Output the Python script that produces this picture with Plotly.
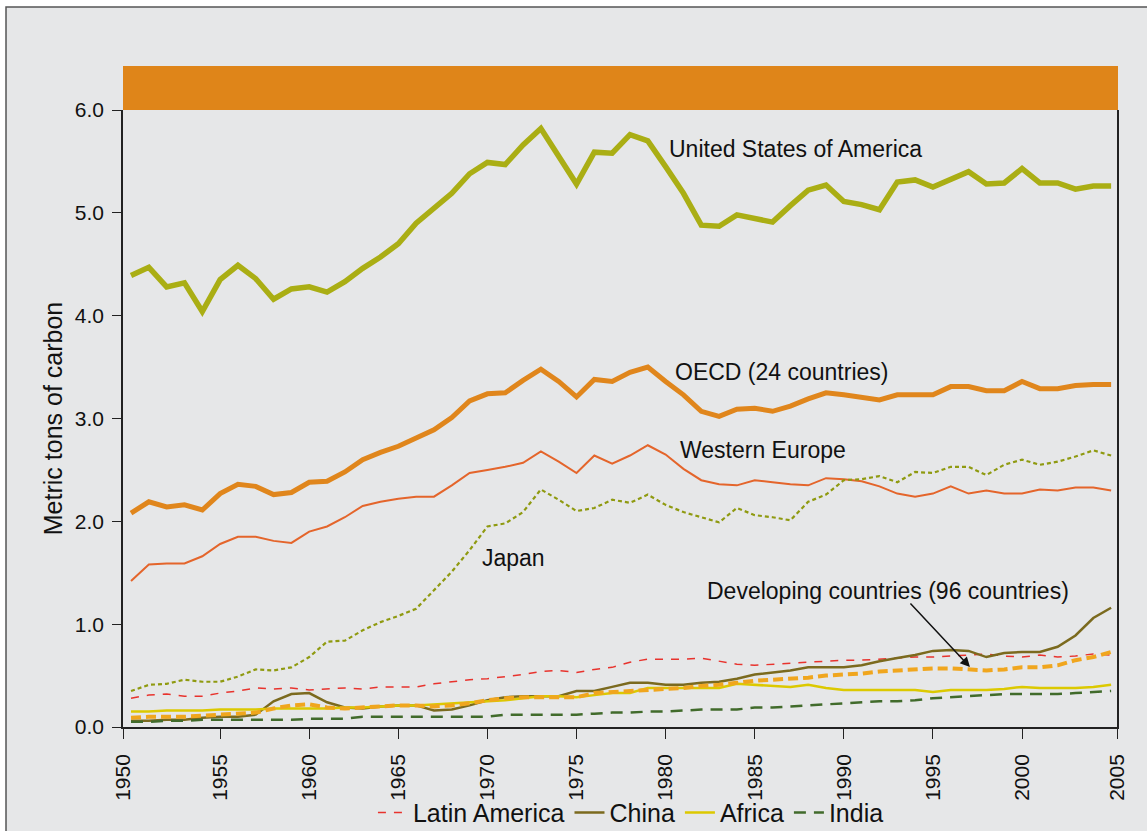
import plotly.graph_objects as go

years = list(range(1950, 2006))

usa = [4.39, 4.47, 4.28, 4.32, 4.04, 4.35, 4.49, 4.36, 4.16, 4.26,
       4.28, 4.23, 4.33, 4.46, 4.57, 4.70, 4.90, 5.04, 5.19, 5.38,
       5.49, 5.47, 5.66, 5.82, 5.55, 5.28, 5.59, 5.58, 5.76, 5.70,
       5.45, 5.19, 4.88, 4.87, 4.98, 4.95, 4.91, 5.07, 5.22, 5.27,
       5.11, 5.08, 5.03, 5.30, 5.32, 5.25, 5.32, 5.40, 5.28, 5.29,
       5.43, 5.29, 5.29, 5.23, 5.26, 5.26]

oecd = [2.08, 2.19, 2.14, 2.16, 2.11, 2.27, 2.36, 2.34, 2.26, 2.28,
        2.38, 2.39, 2.48, 2.60, 2.67, 2.73, 2.81, 2.89, 3.01, 3.17,
        3.24, 3.25, 3.37, 3.48, 3.36, 3.21, 3.38, 3.36, 3.45, 3.50,
        3.36, 3.23, 3.07, 3.02, 3.09, 3.10, 3.07, 3.12, 3.19, 3.25,
        3.23, 3.20, 3.18, 3.23, 3.23, 3.23, 3.31, 3.31, 3.27, 3.27,
        3.36, 3.29, 3.29, 3.32, 3.33, 3.33]

western_europe = [1.42, 1.58, 1.59, 1.59, 1.66, 1.78, 1.85, 1.85, 1.81, 1.79,
                  1.90, 1.95, 2.04, 2.15, 2.19, 2.22, 2.24, 2.24, 2.35, 2.47,
                  2.50, 2.53, 2.57, 2.68, 2.58, 2.47, 2.64, 2.56, 2.64, 2.74,
                  2.65, 2.51, 2.40, 2.36, 2.35, 2.40, 2.38, 2.36, 2.35, 2.42,
                  2.41, 2.39, 2.34, 2.27, 2.24, 2.27, 2.34, 2.27, 2.30, 2.27,
                  2.27, 2.31, 2.30, 2.33, 2.33, 2.30]

japan = [0.35, 0.41, 0.42, 0.46, 0.44, 0.44, 0.49, 0.56, 0.55, 0.58,
         0.68, 0.83, 0.84, 0.94, 1.02, 1.08, 1.15, 1.33, 1.51, 1.72,
         1.95, 1.98, 2.09, 2.31, 2.21, 2.10, 2.13, 2.21, 2.18, 2.26,
         2.16, 2.09, 2.04, 1.99, 2.13, 2.06, 2.04, 2.01, 2.19, 2.26,
         2.40, 2.41, 2.44, 2.38, 2.48, 2.47, 2.53, 2.53, 2.45, 2.55,
         2.60, 2.55, 2.58, 2.63, 2.69, 2.64]

latin_america = [0.28, 0.31, 0.32, 0.30, 0.30, 0.33, 0.35, 0.38, 0.37, 0.38,
                 0.36, 0.37, 0.38, 0.37, 0.39, 0.39, 0.39, 0.42, 0.44, 0.46,
                 0.47, 0.49, 0.51, 0.54, 0.55, 0.53, 0.56, 0.58, 0.63, 0.66,
                 0.66, 0.66, 0.67, 0.64, 0.61, 0.60, 0.61, 0.62, 0.63, 0.64,
                 0.65, 0.65, 0.66, 0.67, 0.68, 0.68, 0.69, 0.70, 0.71, 0.69,
                 0.68, 0.70, 0.68, 0.69, 0.71, 0.70]

china = [0.06, 0.06, 0.07, 0.07, 0.09, 0.10, 0.10, 0.12, 0.25, 0.32,
         0.33, 0.24, 0.19, 0.18, 0.20, 0.21, 0.21, 0.16, 0.17, 0.21,
         0.26, 0.29, 0.30, 0.30, 0.30, 0.35, 0.35, 0.39, 0.43, 0.43,
         0.41, 0.41, 0.43, 0.44, 0.47, 0.51, 0.53, 0.55, 0.58, 0.58,
         0.58, 0.60, 0.64, 0.67, 0.70, 0.74, 0.75, 0.74, 0.68, 0.72,
         0.73, 0.73, 0.78, 0.89, 1.06, 1.16]

africa = [0.15, 0.15, 0.16, 0.16, 0.16, 0.17, 0.17, 0.17, 0.18, 0.18,
          0.18, 0.18, 0.19, 0.19, 0.20, 0.21, 0.21, 0.22, 0.23, 0.24,
          0.25, 0.26, 0.28, 0.30, 0.30, 0.29, 0.31, 0.33, 0.33, 0.38,
          0.38, 0.38, 0.38, 0.38, 0.42, 0.41, 0.40, 0.39, 0.41, 0.38,
          0.36, 0.36, 0.36, 0.36, 0.36, 0.34, 0.36, 0.36, 0.36, 0.37,
          0.39, 0.38, 0.38, 0.38, 0.39, 0.41]

india = [0.05, 0.05, 0.06, 0.06, 0.07, 0.07, 0.07, 0.07, 0.07, 0.07,
         0.08, 0.08, 0.08, 0.10, 0.10, 0.10, 0.10, 0.10, 0.10, 0.10,
         0.10, 0.12, 0.12, 0.12, 0.12, 0.12, 0.13, 0.14, 0.14, 0.15,
         0.15, 0.16, 0.17, 0.17, 0.17, 0.19, 0.19, 0.20, 0.21, 0.22,
         0.23, 0.24, 0.25, 0.25, 0.26, 0.28, 0.29, 0.30, 0.31, 0.32,
         0.32, 0.32, 0.32, 0.33, 0.34, 0.35]

developing = [0.09, 0.10, 0.10, 0.10, 0.11, 0.12, 0.13, 0.14, 0.18, 0.21,
              0.22, 0.19, 0.18, 0.19, 0.20, 0.21, 0.21, 0.20, 0.21, 0.23,
              0.26, 0.28, 0.29, 0.29, 0.29, 0.29, 0.33, 0.34, 0.35, 0.36,
              0.37, 0.38, 0.40, 0.41, 0.43, 0.45, 0.46, 0.47, 0.48, 0.50,
              0.51, 0.52, 0.54, 0.55, 0.56, 0.57, 0.57, 0.56, 0.55, 0.56,
              0.58, 0.58, 0.60, 0.65, 0.68, 0.73]

x_ticks = [1950, 1955, 1960, 1965, 1970, 1975, 1980, 1985, 1990, 1995, 2000, 2005]
y_ticks = [0, 1, 2, 3, 4, 5, 6]

FONT = "Liberation Sans, Arial, Helvetica, sans-serif"
BG = "#e6e7e8"
X_RANGE = [1949.55, 2005.33]

fig = go.Figure()

def add(y, name, color, width, dash="solid", legend=False):
    fig.add_trace(go.Scatter(x=years, y=y, name=name, mode="lines",
                             line=dict(color=color, width=width, dash=dash),
                             showlegend=legend))

add(usa, "United States of America", "#aaae14", 5.5)
add(oecd, "OECD (24 countries)", "#e0861c", 5)
add(western_europe, "Western Europe", "#e4652b", 2)
add(japan, "Japan", "#8f9a10", 2.2, "4px,3px")
add(latin_america, "Latin America", "#e8332d", 1.5, "8px,8px", True)
add(china, "China", "#7b6a1e", 2.5, "solid", True)
add(africa, "Africa", "#dcc900", 2.5, "solid", True)
add(india, "India", "#416b2b", 2.5, "12px,8px", True)
add(developing, "Developing countries (96 countries)", "#f0a61e", 4, "10px,5px")

# tick positions: edge ticks labelled 1950 and 2005 sit at the frame edges
tickvals = [X_RANGE[0]] + x_ticks[1:-1] + [X_RANGE[1]]

fig.update_layout(
    width=1147, height=831,
    margin=dict(l=123, r=30, t=110, b=104, autoexpand=False),
    paper_bgcolor="white",
    plot_bgcolor=BG,
    font=dict(family=FONT, color="#111111", size=21),
    xaxis=dict(range=X_RANGE, tickvals=tickvals, ticktext=[str(v) for v in x_ticks],
               tickangle=-90, ticks="outside", ticklen=10, tickwidth=1.2,
               tickcolor="#222", showline=True, linecolor="#222", linewidth=1.5,
               mirror=False, showgrid=False, zeroline=False, automargin=False,
               tickfont=dict(size=21), ticklabelstandoff=7),
    yaxis=dict(range=[0, 6], tickvals=y_ticks, tickformat=".1f",
               ticks="outside", ticklen=9, tickwidth=1.2, tickcolor="#222",
               showline=True, linecolor="#222", linewidth=1.5, mirror=True,
               showgrid=False, zeroline=False, tickfont=dict(size=21),
               ticklabelstandoff=4, automargin=False,
               title=dict(text="Metric tons of carbon", font=dict(size=25), standoff=5)),
    legend=dict(orientation="h", x=0.511, xanchor="center", y=-0.139, yanchor="middle",
                font=dict(size=25), bgcolor="rgba(0,0,0,0)", itemwidth=30,
                tracegroupgap=0),
    shapes=[
        dict(type="rect", xref="paper", yref="paper", x0=-0.1177, x1=1.05,
             y0=-0.2, y1=1.1669, fillcolor=BG, line=dict(color="#555555", width=1.5),
             layer="below"),
        dict(type="rect", xref="paper", yref="paper", x0=0, x1=1.001,
             y0=1.0, y1=1.0713, fillcolor="#df8519", line=dict(width=0),
             layer="above"),
    ],
)

annots = [
    ("United States of America", 1980.08, 5.62),
    ("OECD (24 countries)", 1980.42, 3.45),
    ("Western Europe", 1980.7, 2.69),
    ("Japan", 1969.58, 1.64),
    ("Developing countries (96 countries)", 1982.2, 1.32),
]
for text, ax_, ay_ in annots:
    fig.add_annotation(x=ax_, y=ay_, text=text, showarrow=False, xanchor="left",
                       yanchor="middle", font=dict(size=23, color="#111111"))

fig.add_annotation(x=1997.08, y=0.583, ax=1993.66, ay=1.216, axref="x", ayref="y",
                   text="", showarrow=True, arrowhead=2, arrowsize=1.3,
                   arrowwidth=1.5, arrowcolor="#111111")

fig.write_html(
    "out.html",
    config={"displayModeBar": False},
    post_script="document.body.style.margin='0px';document.body.style.overflow='hidden';",
)
